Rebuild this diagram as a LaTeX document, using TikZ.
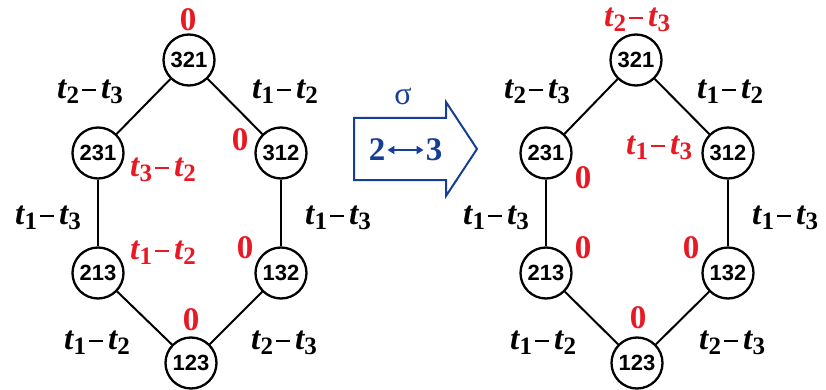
\documentclass[tikz,border=0pt]{standalone}
\usepackage{fontspec}
\setmainfont{Liberation Serif}
\newfontfamily\nodefont{Liberation Sans}
\usetikzlibrary{arrows.meta}
\definecolor{lblred}{RGB}{232,24,36}
\definecolor{arrblue}{RGB}{22,62,150}
\newcommand\tdf[2]{\textbf{\textit{t}\kern-0.5pt\raisebox{-0.35ex}{\fontsize{25}{25}\selectfont\textbf{#1}}\kern3pt\rule[7.5pt]{14pt}{2.4pt}\kern5pt\textit{t}\kern-0.5pt\raisebox{-0.35ex}{\fontsize{25}{25}\selectfont\textbf{#2}}}}
\begin{document}
\begin{tikzpicture}[x=1pt,y=-1pt,
  perm/.style={circle,draw=black,line width=2.3pt,minimum size=51pt,inner sep=0pt,
    font=\nodefont\bfseries\fontsize{22}{22}\selectfont,fill=white},
  edge/.style={line width=2pt,black},
  lbl/.style={font=\fontsize{33}{33}\selectfont,inner sep=0pt},
  red/.style={lbl,text=lblred},
  zero/.style={red,font=\fontsize{33}{33}\selectfont\bfseries}]
\useasboundingbox (0,0) rectangle (826,390);
% left graph
\node[perm] (a321) at (189,60) {321};
\node[perm] (a231) at (98,153) {231};
\node[perm] (a312) at (281,153) {312};
\node[perm] (a213) at (98,273) {213};
\node[perm] (a132) at (281,273) {132};
\node[perm] (a123) at (191,363) {123};
\draw[edge] (a321) -- (a231);
\draw[edge] (a321) -- (a312);
\draw[edge] (a231) -- (a213);
\draw[edge] (a312) -- (a132);
\draw[edge] (a213) -- (a123);
\draw[edge] (a132) -- (a123);
\node[zero] (l1) at (188,20) {0};
\node[lbl] (l2) at (90,92) {\tdf{2}{3}};
\node[lbl] (l3) at (285,92) {\tdf{1}{2}};
\node[zero] (l4) at (240,140) {0};
\node[red] (l5) at (163,170) {\tdf{3}{2}};
\node[lbl] (l6) at (48,218) {\tdf{1}{3}};
\node[lbl] (l7) at (338,218) {\tdf{1}{3}};
\node[red] (l8) at (163,253) {\tdf{1}{2}};
\node[zero] (l9) at (245,248) {0};
\node[zero] (l10) at (191,320) {0};
\node[lbl] (l11) at (97,343) {\tdf{1}{2}};
\node[lbl] (l12) at (284,343) {\tdf{2}{3}};
% arrow
\draw[arrblue,line width=2pt,line join=miter]
  (354,118) -- (446,118) -- (446,102) -- (477,149) -- (446,196) -- (446,180) -- (354,180) -- cycle;
\node[text=arrblue,font=\fontsize{32}{32}\selectfont,inner sep=0pt] (sig) at (403,96) {σ};
\node[text=arrblue,font=\fontsize{33}{33}\selectfont\bfseries,inner sep=0pt] (n2) at (377,150) {2};
\node[text=arrblue,font=\fontsize{33}{33}\selectfont\bfseries,inner sep=0pt] (n3) at (434,150) {3};
\draw[arrblue,line width=2pt,{Triangle[length=7pt,width=8pt]}-{Triangle[length=7pt,width=8pt]}]
  ([xshift=2pt]n2.east) -- ([xshift=-2pt]n3.west);
% right graph
\node[perm] (b321) at (636,60) {321};
\node[perm] (b231) at (546,153) {231};
\node[perm] (b312) at (728,153) {312};
\node[perm] (b213) at (546,273) {213};
\node[perm] (b132) at (728,273) {132};
\node[perm] (b123) at (637,363) {123};
\draw[edge] (b321) -- (b231);
\draw[edge] (b321) -- (b312);
\draw[edge] (b231) -- (b213);
\draw[edge] (b312) -- (b132);
\draw[edge] (b213) -- (b123);
\draw[edge] (b132) -- (b123);
\node[red] (r1) at (637,20) {\tdf{2}{3}};
\node[lbl] (r2) at (537,92) {\tdf{2}{3}};
\node[lbl] (r3) at (730,92) {\tdf{1}{2}};
\node[red] (r4) at (659,148) {\tdf{1}{3}};
\node[zero] (r5) at (583,178) {0};
\node[lbl] (r6) at (496,218) {\tdf{1}{3}};
\node[lbl] (r7) at (785,218) {\tdf{1}{3}};
\node[zero] (r8) at (583,248) {0};
\node[zero] (r9) at (691,248) {0};
\node[zero] (r10) at (638,318) {0};
\node[lbl] (r11) at (543,343) {\tdf{1}{2}};
\node[lbl] (r12) at (732,343) {\tdf{2}{3}};
\end{tikzpicture}
\end{document}
